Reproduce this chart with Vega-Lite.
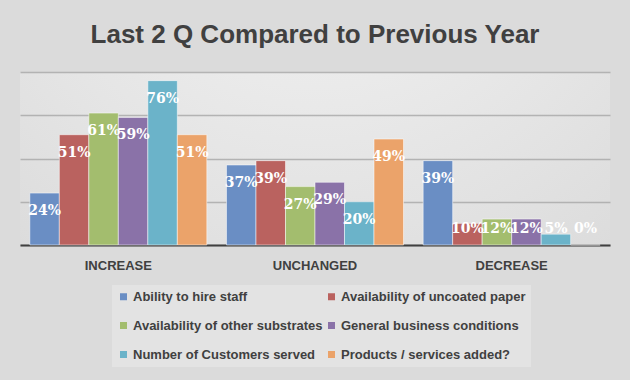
{
  "$schema": "https://vega.github.io/schema/vega-lite/v6.json",
  "autosize": {"type": "none"},
  "padding": {"left": 20, "right": 20, "top": 72, "bottom": 135},
  "width": 590,
  "height": 173,
  "background": "#dbdbdb",
  "title": {
    "text": "Last 2 Q Compared to Previous Year",
    "font": "Liberation Sans, Arial, sans-serif",
    "fontSize": 26,
    "fontWeight": "bold",
    "color": "#404040",
    "anchor": "middle",
    "baseline": "alphabetic",
    "offset": 3
  },
  "data": {
    "values": [
      {"cat": "INCREASE", "series": "Ability to hire staff", "value": 24},
      {"cat": "INCREASE", "series": "Availability of uncoated paper", "value": 51},
      {"cat": "INCREASE", "series": "Availability of other substrates", "value": 61},
      {"cat": "INCREASE", "series": "General business conditions", "value": 59},
      {"cat": "INCREASE", "series": "Number of Customers served", "value": 76},
      {"cat": "INCREASE", "series": "Products / services added?", "value": 51},
      {"cat": "UNCHANGED", "series": "Ability to hire staff", "value": 37},
      {"cat": "UNCHANGED", "series": "Availability of uncoated paper", "value": 39},
      {"cat": "UNCHANGED", "series": "Availability of other substrates", "value": 27},
      {"cat": "UNCHANGED", "series": "General business conditions", "value": 29},
      {"cat": "UNCHANGED", "series": "Number of Customers served", "value": 20},
      {"cat": "UNCHANGED", "series": "Products / services added?", "value": 49},
      {"cat": "DECREASE", "series": "Ability to hire staff", "value": 39},
      {"cat": "DECREASE", "series": "Availability of uncoated paper", "value": 10},
      {"cat": "DECREASE", "series": "Availability of other substrates", "value": 12},
      {"cat": "DECREASE", "series": "General business conditions", "value": 12},
      {"cat": "DECREASE", "series": "Number of Customers served", "value": 5},
      {"cat": "DECREASE", "series": "Products / services added?", "value": 0}
    ]
  },
  "transform": [
    {"calculate": "datum.value + '%'", "as": "lbl"},
    {"calculate": "max(datum.value, 15.5)", "as": "lblpos"}
  ],
  "encoding": {
    "x": {
      "field": "cat",
      "type": "nominal",
      "sort": ["INCREASE", "UNCHANGED", "DECREASE"],
      "scale": {"paddingInner": 0.1, "paddingOuter": 0.05},
      "axis": {
        "title": null,
        "labelAngle": 0,
        "ticks": false,
        "domainColor": "#404040",
        "domainWidth": 2,
        "labelFont": "Liberation Sans, Arial, sans-serif",
        "labelFontSize": 13,
        "labelFontWeight": "bold",
        "labelColor": "#404040",
        "labelPadding": 14
      }
    },
    "xOffset": {
      "field": "series",
      "type": "nominal",
      "sort": ["Ability to hire staff", "Availability of uncoated paper", "Availability of other substrates", "General business conditions", "Number of Customers served", "Products / services added?"]
    }
  },
  "layer": [
    {
      "mark": {"type": "bar", "stroke": "#ffffff", "strokeWidth": 1, "strokeOpacity": 0.5},
      "encoding": {
        "y": {
          "field": "value",
          "type": "quantitative",
          "scale": {"domain": [0, 80], "nice": false},
          "axis": {
            "title": null,
            "labels": false,
            "ticks": false,
            "domain": false,
            "values": [0, 10, 20, 30, 40, 50, 60, 70, 80],
            "gridColor": "#a6a6a6",
            "gridOpacity": 0.8,
            "gridWidth": 1.5
          }
        },
        "color": {
          "field": "series",
          "type": "nominal",
          "sort": ["Ability to hire staff", "Availability of uncoated paper", "Availability of other substrates", "General business conditions", "Number of Customers served", "Products / services added?"],
          "scale": {
            "range": ["#6a8ec4", "#ba625f", "#a3bd6e", "#8a72a8", "#6bb3c9", "#eba36a"]
          },
          "legend": {
            "title": null,
            "orient": "none",
            "legendX": 92,
            "legendY": 213,
            "columns": 2,
            "direction": "horizontal",
            "labelFont": "Liberation Sans, Arial, sans-serif",
            "labelFontSize": 13,
            "labelFontWeight": "bold",
            "labelColor": "#404040",
            "labelLimit": 300,
            "labelOffset": 3,
            "symbolType": "square",
            "symbolSize": 49,
            "symbolStrokeWidth": 0,
            "rowPadding": 15,
            "columnPadding": 2,
            "padding": 5,
            "fillColor": "#e3e3e3"
          }
        }
      }
    },
    {
      "mark": {
        "type": "text",
        "color": "white",
        "font": "DejaVu Serif, Liberation Serif, serif",
        "fontSize": 14,
        "fontWeight": "bold",
        "baseline": "middle",
        "dy": 18
      },
      "encoding": {
        "y": {"field": "lblpos", "type": "quantitative"},
        "text": {"field": "lbl"}
      }
    }
  ],
  "config": {
    "view": {
      "stroke": null,
      "fill": {
        "gradient": "radial",
        "x1": 0.5, "y1": 0, "r1": 0,
        "x2": 0.5, "y2": 0, "r2": 0.85,
        "stops": [
          {"offset": 0, "color": "#f6f6f6"},
          {"offset": 1, "color": "#dbdbdb"}
        ]
      }
    }
  }
}
